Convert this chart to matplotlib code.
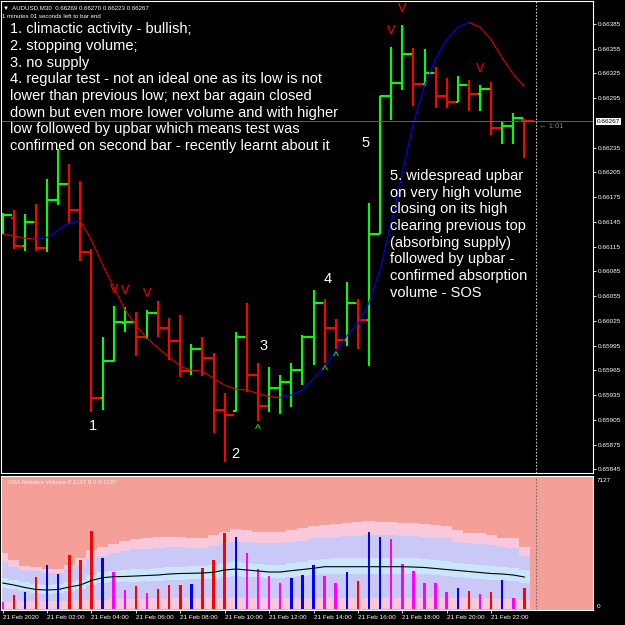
import matplotlib
matplotlib.use("Agg")
import matplotlib.pyplot as plt
from matplotlib.collections import LineCollection
import matplotlib.transforms as mtransforms
import numpy as np

plt.rcParams['font.family'] = ['Liberation Sans', 'DejaVu Sans']

# AUDUSD M30, 21 Feb 2020 00:00 .. 23:30 (48 bars)
opens = [0.66135, 0.66150, 0.66116, 0.66145, 0.66113, 0.66171, 0.66191, 0.66159, 0.66109, 0.65932,
         0.65976, 0.66022, 0.66024, 0.66005, 0.66034, 0.66016, 0.66000, 0.65964, 0.65991, 0.65980,
         0.65917, 0.65916, 0.66005, 0.65959, 0.65922, 0.65944, 0.65951, 0.65965, 0.66005, 0.66047,
         0.66016, 0.66002, 0.66047, 0.66026, 0.66130, 0.66298, 0.66313, 0.66349, 0.66312, 0.66325,
         0.66298, 0.66291, 0.66311, 0.66300, 0.66306, 0.66259, 0.66261, 0.66269]
highs = [0.66156, 0.66159, 0.66154, 0.66167, 0.66197, 0.66234, 0.66215, 0.66195, 0.66112, 0.66005,
         0.66043, 0.66042, 0.66036, 0.66038, 0.66049, 0.66029, 0.66032, 0.65997, 0.66005, 0.65986,
         0.65938, 0.66011, 0.66047, 0.65974, 0.65969, 0.65959, 0.65974, 0.66008, 0.66063, 0.66051,
         0.66027, 0.66072, 0.66051, 0.66168, 0.66298, 0.66357, 0.66384, 0.66356, 0.66355, 0.66333,
         0.66319, 0.66322, 0.66317, 0.66311, 0.66315, 0.66267, 0.66277, 0.66270]
lows = [0.66130, 0.66112, 0.66110, 0.66110, 0.66109, 0.66166, 0.66143, 0.66097, 0.65915, 0.65917,
        0.65976, 0.66012, 0.65982, 0.66003, 0.66006, 0.65977, 0.65957, 0.65959, 0.65958, 0.65889,
        0.65854, 0.65916, 0.65939, 0.65903, 0.65915, 0.65912, 0.65920, 0.65947, 0.65972, 0.65974,
        0.65991, 0.65994, 0.65991, 0.65970, 0.66130, 0.66268, 0.66305, 0.66285, 0.66310, 0.66283,
        0.66283, 0.66291, 0.66279, 0.66279, 0.66250, 0.66240, 0.66239, 0.66223]
closes = [0.66153, 0.66116, 0.66145, 0.66113, 0.66171, 0.66191, 0.66159, 0.66109, 0.65932, 0.65976,
          0.66024, 0.66024, 0.66005, 0.66034, 0.66016, 0.66000, 0.65964, 0.65991, 0.65980, 0.65917,
          0.65911, 0.66005, 0.65959, 0.65922, 0.65944, 0.65951, 0.65965, 0.66005, 0.66047, 0.66016,
          0.66002, 0.66047, 0.66026, 0.66130, 0.66298, 0.66313, 0.66349, 0.66312, 0.66325, 0.66298,
          0.66291, 0.66311, 0.66300, 0.66306, 0.66259, 0.66261, 0.66271, 0.66267]

# moving average drawn on price (blue rising / red falling)
ma = [0.66130, 0.66128, 0.66125, 0.66124, 0.66126, 0.66135, 0.66144, 0.66146, 0.66123, 0.66093,
      0.66066, 0.66039, 0.66019, 0.66004, 0.65992, 0.65981, 0.65970, 0.65965, 0.65964, 0.65955,
      0.65947, 0.65942, 0.65941, 0.65937, 0.65933, 0.65932, 0.65935, 0.65941, 0.65955, 0.65969,
      0.65988, 0.66007, 0.66021, 0.66047, 0.66087, 0.66144, 0.66204, 0.66265, 0.66310, 0.66343,
      0.66366, 0.66381, 0.66387, 0.66381, 0.66366, 0.66344, 0.66324, 0.66309]

# VSA relative volume
volume = [360, 750, 895, 1715, 2342, 1876, 2878, 2643, 4181, 2734,
          1983, 1018, 1233, 858, 1072, 1286, 1286, 1340, 2198, 2643,
          4074, 3843, 3018, 2144, 1769, 1394, 1678, 1822, 2358, 1769,
          1394, 1999, 1500, 4127, 3875, 3736, 2412, 2053, 1394, 1394,
          927, 1142, 981, 820, 927, 1570, 590, 1137]
vol_class = "m r b r b b r r r b m m r m r r r b r r r b m m m m b b b m m b r b b m m m m m m b r m r b m r".split()
vol_avg = [1394, 1286, 1152, 1045, 1018, 1045, 1179, 1286, 1528, 1678,
           1731, 1742, 1769, 1796, 1822, 1876, 1903, 1914, 1930, 1967,
           2090, 2144, 2090, 2037, 1983, 1983, 2053, 2117, 2182, 2267,
           2267, 2267, 2267, 2267, 2267, 2267, 2267, 2250, 2224, 2171,
           2117, 2064, 2010, 1956, 1903, 1876, 1822, 1715]
band_top = [2984, 2626, 2305, 2269, 2126, 2126, 2358, 2716, 3162, 3341,
            3484, 3645, 3752, 3806, 3841, 3877, 3877, 3823, 3823, 3966,
            4145, 4270, 4234, 4145, 4145, 4145, 4234, 4324, 4467, 4502,
            4556, 4592, 4645, 4717, 4681, 4681, 4592, 4592, 4556, 4502,
            4449, 4234, 4092, 4056, 3966, 3823, 3788, 3341]
band_hi = [2537, 2269, 2090, 2037, 1948, 1948, 2126, 2358, 2716, 2859,
           2984, 3109, 3198, 3234, 3270, 3305, 3305, 3270, 3270, 3377,
           3519, 3609, 3573, 3519, 3519, 3519, 3591, 3663, 3788, 3823,
           3877, 3913, 3931, 3966, 3948, 3948, 3913, 3913, 3877, 3823,
           3788, 3609, 3519, 3484, 3413, 3305, 3252, 2841]
band_mid_hi = [1650, 1560, 1430, 1330, 1300, 1320, 1460, 1580, 1830, 1990,
               2060, 2090, 2130, 2160, 2190, 2240, 2270, 2280, 2290, 2340,
               2480, 2550, 2490, 2430, 2370, 2370, 2450, 2520, 2600, 2700,
               2710, 2720, 2730, 2740, 2740, 2740, 2730, 2710, 2680, 2620,
               2560, 2490, 2420, 2360, 2300, 2260, 2200, 2080]
band_mid_lo = [1150, 1060, 940, 840, 820, 840, 960, 1050, 1270, 1400,
               1440, 1450, 1470, 1490, 1510, 1560, 1580, 1590, 1600, 1630,
               1740, 1780, 1730, 1690, 1640, 1640, 1700, 1760, 1820, 1880,
               1880, 1880, 1880, 1880, 1880, 1880, 1880, 1870, 1850, 1800,
               1760, 1720, 1670, 1620, 1580, 1560, 1510, 1420]
band_lo = [390, 400, 420, 430, 440, 440, 450, 460, 480, 500,
           520, 530, 540, 550, 560, 570, 570, 570, 580, 580,
           590, 600, 600, 600, 600, 600, 600, 610, 610, 610,
           610, 610, 610, 610, 610, 610, 610, 610, 600, 600,
           590, 590, 580, 570, 560, 550, 540, 500]

sell_marks = [10, 11, 13, 35, 36, 43]
buy_marks = [23, 29, 30]
labels_on_chart = [("1", 8.15, 0.65897), ("2", 21.0, 0.65864), ("3", 23.5, 0.65994),
                   ("4", 29.3, 0.66076), ("5", 32.7, 0.66241)]

# 0.66265 is hidden behind the last-price label
price_ticks = [0.65845, 0.65875, 0.65905, 0.65935, 0.65965, 0.65995, 0.66025, 0.66055, 0.66085,
               0.66115, 0.66145, 0.66175, 0.66205, 0.66235, 0.66295, 0.66325, 0.66355,
               0.66385]
time_labels = ["21 Feb 2020", "21 Feb 02:00", "21 Feb 04:00", "21 Feb 06:00", "21 Feb 08:00",
               "21 Feb 10:00", "21 Feb 12:00", "21 Feb 14:00", "21 Feb 16:00", "21 Feb 18:00",
               "21 Feb 20:00", "21 Feb 22:00"]
last_price = 0.66267

notes_left = ["1. climactic activity - bullish;",
              "2. stopping volume;",
              "3. no supply",
              "4. regular test - not an ideal one as its low is not",
              "lower than previous low; next bar again closed",
              "down but even more lower volume and with higher",
              "low followed by upbar which means test was",
              "confirmed on second bar - recently learnt about it"]
notes_right = ["5. widespread upbar", "on very high volume", "closing on its high",
               "clearing previous top", "(absorbing supply)", "followed by upbar -",
               "confirmed absorption", "volume - SOS"]

W = H = 625
fig = plt.figure(figsize=(6.25, 6.25), dpi=100, facecolor='black')


def box(x0, y0, x1, y1):
    return [x0 / W, 1 - y1 / H, (x1 - x0) / W, (y1 - y0) / H]


def ftext(x, y, s, **kw):
    fig.text(x / W, 1 - y / H, s, **kw)


ax = fig.add_axes(box(1, 1, 593, 473), facecolor='black')
axv = fig.add_axes(box(1, 476, 593, 610), facecolor='#F4A098')

x = np.arange(len(opens))
xlim = (-0.153, 53.18)

# ---- price panel
cols = ['#00FF00' if c >= o else '#FF0000' for o, c in zip(opens, closes)]
ax.vlines(x, lows, highs, colors=cols, lw=1.5)
ax.hlines(opens, x - 0.28, x, colors=cols, lw=1.5)
ax.hlines(closes, x, x + 0.86, colors=cols, lw=1.5)

segs = [[(i, ma[i]), (i + 1, ma[i + 1])] for i in range(len(ma) - 1)]
seg_cols = ['#0000FF' if ma[i + 1] > ma[i] else '#DD0000' for i in range(len(ma) - 1)]
ax.add_collection(LineCollection(segs, colors=seg_cols, lw=0.8))

for i in sell_marks:
    ax.text(i, highs[i] + 0.00016, 'V', color='#FF0000', fontsize=9, ha='center', va='baseline')
for i in buy_marks:
    ax.text(i, lows[i] - 0.00003, '^', color='#00FF00', fontsize=9, ha='center', va='top')
for s, lx, ly in labels_on_chart:
    ax.text(lx, ly, s, color='white', fontsize=10.5, ha='center', va='center')

ax.axhline(last_price, color='#606060', lw=0.7)
ax.axvline(48, color='#C8C8C8', lw=0.8, ls=(0, (1.5, 1.5)))

ax.set_xlim(*xlim)
ax.set_ylim(0.658405, 0.664129)
ax.set_xticks([])
ax.yaxis.tick_right()
ax.set_yticks(price_ticks)
ax.set_yticklabels(['%.5f' % p for p in price_ticks])
ax.tick_params(axis='y', colors='white', labelsize=4.6, length=2.2, width=0.6, pad=1.2)
for sp in ax.spines.values():
    sp.set_color('white')
    sp.set_linewidth(0.8)

trans = mtransforms.blended_transform_factory(ax.transAxes, ax.transData)
ax.text(1.006, last_price, '0.66267', transform=trans, fontsize=4.6, color='black',
        ha='left', va='center', bbox=dict(boxstyle='square,pad=0.15', fc='white', ec='none'),
        clip_on=False)
ax.text(48.3, last_price - 0.00002, '\u2190 1:01', color='#808080', fontsize=5.5,
        ha='left', va='top')

# ---- volume panel
edges = np.arange(len(volume) + 1) - 0.5
axv.stairs(band_top, edges, baseline=0, fill=True, color='#F9C8DA', lw=0)
axv.stairs(band_hi, edges, baseline=band_lo, fill=True, color='#C9C8F6', lw=0)
axv.stairs(band_mid_hi, edges, baseline=band_mid_lo, fill=True, color='#C9E6FC', lw=0)
axv.plot(x, vol_avg, color='black', lw=0.8)
class_cols = {'r': '#FF0000', 'b': '#0000FF', 'm': '#FF00FF'}
axv.bar(x, volume, width=0.22, color=[class_cols[c] for c in vol_class])
axv.axvline(48, color='#707070', lw=0.8, ls=(0, (1.5, 1.5)))

axv.set_xlim(*xlim)
axv.set_ylim(-54, 7130)
axv.set_yticks([])
axv.set_xticks(np.arange(0, 48, 4))
axv.set_xticklabels(time_labels, ha='left')
axv.tick_params(axis='x', colors='white', labelsize=4.6, length=2.2, width=0.6, pad=1.5)
for sp in axv.spines.values():
    sp.set_color('white')
    sp.set_linewidth(0.8)
axv.text(0.012, 0.97, 'VSA Relative Volume 0 1137 0 0 0 1137', transform=axv.transAxes,
         fontsize=4.4, color='#FFF0F0', ha='left', va='top')
ftext(597, 480, '7127', fontsize=4.6, color='white', ha='left', va='center')
ftext(597, 606, '0', fontsize=4.6, color='white', ha='left', va='center')

# ---- header and notes
ftext(3, 9.5, '\u25bc', fontsize=4.4, color='white', ha='left', va='baseline')
ftext(12, 9.5, 'AUDUSD,M30  0.66269 0.66270 0.66223 0.66267', fontsize=4.4, color='white',
      ha='left', va='baseline')
ftext(2, 18.3, '1 minutes 01 seconds left to bar end', fontsize=4.4, color='white',
      ha='left', va='baseline')
for k, line in enumerate(notes_left):
    ftext(10.5, 33.3 + 16.7 * k, line, fontsize=10.5, color='white', ha='left', va='baseline')
for k, line in enumerate(notes_right):
    ftext(390, 180 + 16.7 * k, line, fontsize=10.5, color='white', ha='left', va='baseline')

fig.savefig('out.png', dpi=100, facecolor='black')
